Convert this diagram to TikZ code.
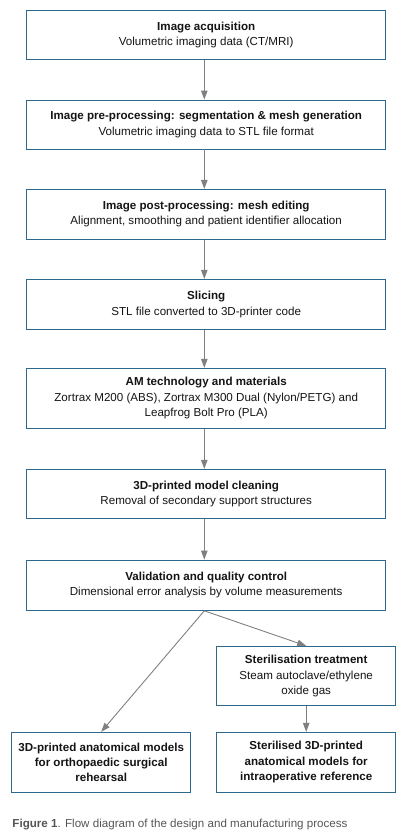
\documentclass[tikz,border=0pt]{standalone}
\usepackage{fontspec}
\setmainfont{Liberation Sans}
\usetikzlibrary{arrows.meta,calc}
\definecolor{boxc}{RGB}{45,105,140}
\definecolor{arrc}{RGB}{128,128,128}
\definecolor{txtc}{RGB}{20,20,20}
\definecolor{capc}{RGB}{85,85,85}
\begin{document}
\begin{tikzpicture}[x=1pt,y=-1pt,
  box/.style={draw=boxc,line width=0.9pt,align=center,inner sep=0pt,text=txtc,
    font=\fontsize{11.6}{15.4}\selectfont},
  wide/.style={box,minimum width=359pt},
  half/.style={box,minimum width=179pt},
  arr/.style={draw=arrc,line width=0.9pt,-{Triangle[width=6.5pt,length=9pt]}}]
\useasboundingbox (0,0) rectangle (404,838);
\node[wide,minimum height=49.3pt] (b1) at (206.2,34.7) {{\bfseries Image acquisition}\\Volumetric imaging data (CT/MRI)};
\node[wide,minimum height=49pt] (b2) at (206.2,124.5) {{\bfseries Image pre-processing: segmentation \& mesh generation}\\Volumetric imaging data to STL file format};
\node[wide,minimum height=49.7pt] (b3) at (206.2,214.2) {{\bfseries Image post-processing: mesh editing}\\Alignment, smoothing and patient identifier allocation};
\node[wide,minimum height=50pt] (b4) at (206.2,304.3) {{\bfseries Slicing}\\STL file converted to 3D-printer code};
\node[wide,minimum height=60pt] (b5) at (206.2,398.3) {{\bfseries AM technology and materials}\\Zortrax M200 (ABS), Zortrax M300 Dual (Nylon/PETG) and\\Leapfrog Bolt Pro (PLA)};
\node[wide,minimum height=49pt] (b6) at (206.2,493.8) {{\bfseries 3D-printed model cleaning}\\Removal of secondary support structures};
\node[wide,minimum height=50.3pt] (b7) at (206.2,585.2) {{\bfseries Validation and quality control}\\Dimensional error analysis by volume measurements};
\node[half,minimum height=59.4pt] (s) at (306.2,676) {{\bfseries Sterilisation treatment}\\Steam autoclave/ethylene\\oxide gas};
\node[half,minimum height=60pt,font=\fontsize{11.6}{15.4}\selectfont\bfseries] (l) at (101.2,762.3) {3D-printed anatomical models\\for orthopaedic surgical\\rehearsal};
\node[half,minimum height=60pt,font=\fontsize{11.6}{15.4}\selectfont\bfseries] (r) at (306.2,762.3) {Sterilised 3D-printed\\anatomical models for\\intraoperative reference};
\node[anchor=base west,inner sep=0pt,text=capc,font=\fontsize{11.6}{13}\selectfont] (cap) at (12.3,827) {{\bfseries Figure 1}. Flow diagram of the design and manufacturing process};
\foreach \a/\b in {b1/b2,b2/b3,b3/b4,b4/b5,b5/b6,b6/b7}
  \draw[arr] ([xshift=-1.9pt]\a.south) -- ([xshift=-1.9pt]\b.north);
\coordinate (o) at ([xshift=-1.9pt]b7.south);
\draw[arr] (o) -- (s.north);
\draw[arr] (o) -- (l.north);
\draw[arr] (s.south) -- (r.north);
\end{tikzpicture}
\end{document}
